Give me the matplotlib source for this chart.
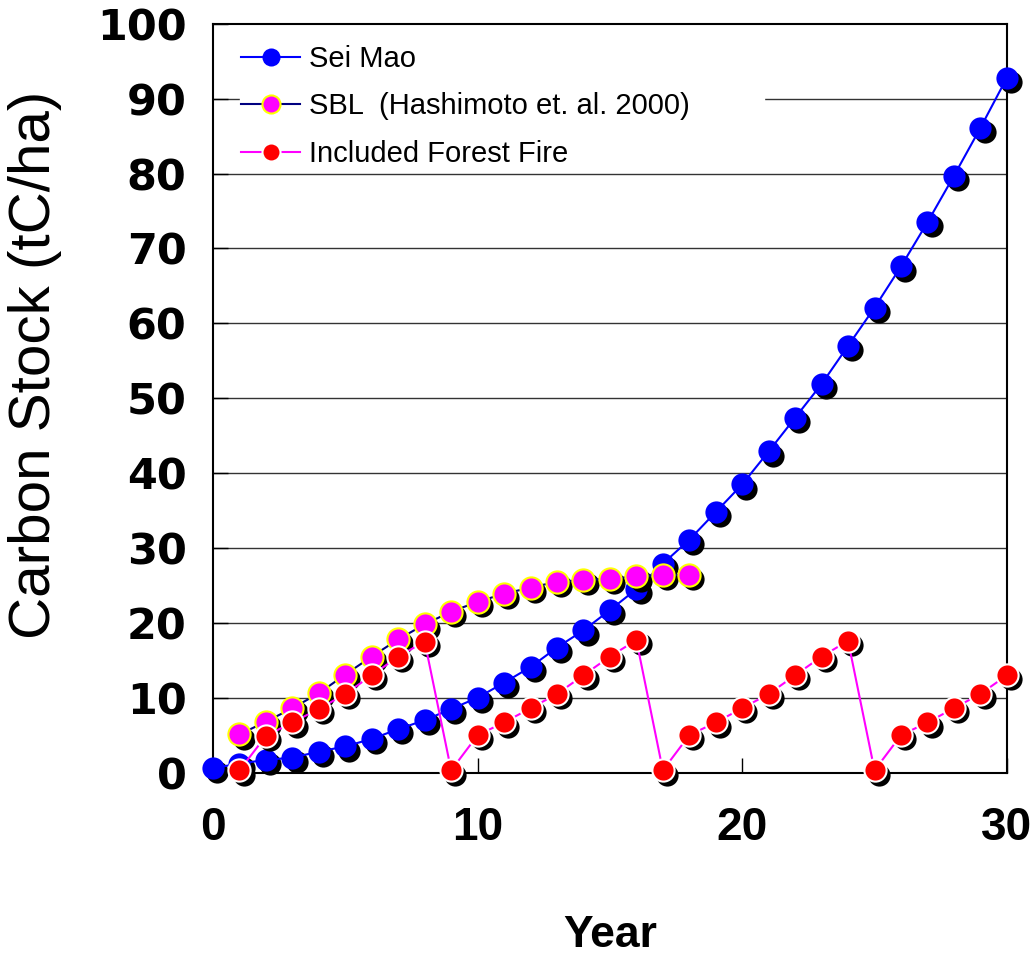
import matplotlib
matplotlib.use("Agg")
import matplotlib.pyplot as plt
import matplotlib.transforms as mtrans

# data
years_sei = list(range(0, 31))
sei_mao = [0.6, 1.2, 1.7, 2.0, 2.8, 3.5, 4.5, 5.8, 7.0, 8.5, 10.0, 12.0, 14.1, 16.7,
           19.0, 21.7, 24.5, 27.9, 31.1, 34.8, 38.5, 42.9, 47.4, 51.9, 57.0, 62.1,
           67.6, 73.5, 79.7, 86.1, 92.8]

years_sbl = list(range(1, 19))
sbl = [5.1, 6.8, 8.6, 10.6, 13.1, 15.5, 17.8, 19.8, 21.5, 22.8, 23.9, 24.7, 25.5,
       25.7, 25.9, 26.2, 26.4, 26.4]

years_fire = list(range(1, 31))
fire = [0.3, 4.9, 6.7, 8.5, 10.5, 13.0, 15.5, 17.5,
        0.3, 5.0, 6.7, 8.6, 10.5, 13.0, 15.5, 17.7,
        0.3, 5.0, 6.7, 8.6, 10.5, 13.0, 15.5, 17.6,
        0.3, 5.0, 6.7, 8.6, 10.5, 13.0]

labels = ["Sei Mao", "SBL  (Hashimoto et. al. 2000)", "Included Forest Fire"]

fig = plt.figure(figsize=(10.35, 9.55), dpi=100)
ax = fig.add_axes([0.2058, 0.191, 0.767, 0.784])

# shadow offset (down-right)
shadow = mtrans.offset_copy(ax.transData, fig=fig, x=3, y=-3, units="points")

series = [
    (years_sei, sei_mao, "#0000ff", "#0000ff", "#0000ff", 0),
    (years_sbl, sbl, "#000080", "#ff00ff", "#ffff00", 1.5),
    (years_fire, fire, "#ff00ff", "#ff0000", "#ffffff", 1.5),
]

handles = []
for i, (x, y, lc, fc, ec, ew) in enumerate(series):
    z = 3 + i * 3
    ax.plot(x, y, linestyle="none", marker="o", markersize=16, color="black",
            markeredgewidth=0, transform=shadow, zorder=z, clip_on=False)
    ax.plot(x, y, color=lc, lw=1.5, zorder=z + 1, clip_on=False)
    ax.plot(x, y, linestyle="none", marker="o", markersize=16,
            markerfacecolor=fc, markeredgecolor=ec, markeredgewidth=ew,
            zorder=z + 2, clip_on=False)
    # legend handle: line + marker
    lh, = ax.plot([], [], color=lc, lw=1.5, marker="o", markersize=13,
                  markerfacecolor=fc, markeredgecolor=ec, markeredgewidth=ew)
    handles.append(lh)

ax.set_xlim(0, 30)
ax.set_ylim(0, 100)
ax.set_xticks([0, 10, 20, 30])
ax.set_yticks(range(0, 101, 10))

for yv in range(10, 100, 10):
    ax.axhline(yv, color="#333333", lw=1, zorder=1)

for s in ax.spines.values():
    s.set_linewidth(1.5)
    s.set_color("black")

ax.tick_params(axis="x", direction="in", length=11, width=1, pad=24)
ax.tick_params(axis="y", direction="in", length=11, width=1, pad=19)
for lab in ax.get_xticklabels():
    lab.set_fontsize(33)
    lab.set_fontweight("bold")
    lab.set_family("Liberation Sans")
for lab in ax.get_yticklabels():
    lab.set_fontsize(31)
    lab.set_fontweight("bold")
    lab.set_family("DejaVu Sans")

ax.set_xlabel("Year", fontsize=32, fontweight="bold", family="Liberation Sans")
ax.xaxis.set_label_coords(0.5, -0.19)
ax.set_ylabel("Carbon Stock (tC/ha)", fontsize=42, fontweight="normal",
              family="Liberation Sans")
ax.yaxis.set_label_coords(-0.19, 0.545)

leg = ax.legend(handles, labels, loc="upper left",
                bbox_to_anchor=(0.034, 0.0, 0.66, 0.974), mode="expand",
                prop={"family": "Liberation Sans", "size": 21},
                handlelength=2.0, handletextpad=0.3, labelspacing=0.67,
                frameon=True, fancybox=False, borderpad=0.05, borderaxespad=0)
leg.get_frame().set_edgecolor("white")
leg.get_frame().set_facecolor("white")
leg.get_frame().set_alpha(1)
leg.set_zorder(20)

fig.savefig("out.png", dpi=100)
